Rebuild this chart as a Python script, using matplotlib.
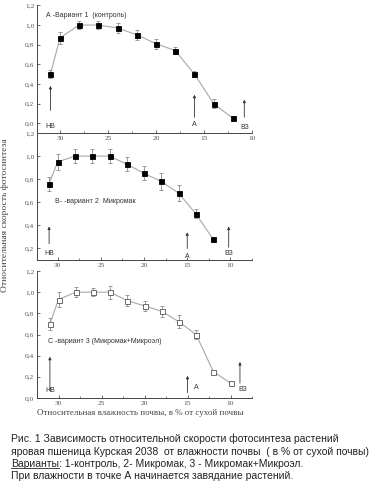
import matplotlib.pyplot as plt
from matplotlib.lines import Line2D
from matplotlib.ticker import MultipleLocator, FuncFormatter

# влажность почвы, % от сухой почвы
moist_a = [31, 30, 28, 26, 24, 22, 20, 18, 16, 14, 12]
rate_a = [0.50, 0.87, 1.00, 1.00, 0.97, 0.90, 0.81, 0.74, 0.50, 0.20, 0.05]
err_a = [0.04, 0.06, 0.04, 0.04, 0.05, 0.05, 0.05, 0.04, 0.03, 0.05, 0.0]

moist_b = [31, 30, 28, 26, 24, 22, 20, 18, 16, 14, 12]
rate_b = [0.76, 0.95, 1.00, 1.00, 1.00, 0.93, 0.85, 0.78, 0.68, 0.50, 0.28]
err_b = [0.06, 0.07, 0.06, 0.06, 0.06, 0.06, 0.06, 0.07, 0.07, 0.04, 0.0]

moist_c = [31, 30, 28, 26, 24, 22, 20, 18, 16, 14, 12, 10]
rate_c = [0.70, 0.93, 1.00, 1.00, 1.00, 0.92, 0.87, 0.82, 0.72, 0.60, 0.25, 0.14]
err_c = [0.06, 0.07, 0.05, 0.04, 0.06, 0.05, 0.05, 0.05, 0.06, 0.04, 0.0, 0.0]

titles = ['А -Вариант 1  (контроль)', 'В- -вариант 2  Микромак',
          'С -вариант 3 (Микромак+Микроэл)']

# стрелки: (x, y от, y до, подпись, x подписи, y подписи)
arrows_a = [(31, 0.13, 0.38, 'НВ', 31, -0.03), (16, 0.06, 0.29, 'А', 16, -0.01),
            (10.8, 0.06, 0.24, 'ВЗ', 10.8, -0.04)]
arrows_b = [(31, 0.24, 0.39, 'НВ', 31, 0.16), (15, 0.20, 0.34, 'А', 15, 0.13),
            (10.2, 0.21, 0.39, 'ВЗ', 10.2, 0.16)]
arrows_c = [(31, 0.07, 0.39, 'НВ', 31, 0.07), (15, 0.05, 0.21, 'А', 14, 0.10),
            (8.9, 0.14, 0.34, 'ВЗ', 8.6, 0.08)]

W, H = 375, 494
fig = plt.figure(figsize=(W / 100, H / 100), dpi=100)

serif = 'Liberation Serif'
sans = 'Liberation Sans'
grey = '#a8a8a8'


def px_axes(left, top, right, bottom):
    return fig.add_axes([left / W, 1 - bottom / H, (right - left) / W, (bottom - top) / H])


ax_a = px_axes(37, 5.4, 252, 133)
ax_b = px_axes(37, 133, 252, 260)
ax_c = px_axes(37, 271, 252, 398)

panels = [
    (ax_a, moist_a, rate_a, err_a, (32.4, 10), (-0.1, 1.2), arrows_a, 'black', (31.5, 1.10)),
    (ax_b, moist_b, rate_b, err_b, (32.4, 7.5), (0.1, 1.2), arrows_b, 'black', (30.3, 0.61)),
    (ax_c, moist_c, rate_c, err_c, (32.5, 7.5), (0.0, 1.2), arrows_c, 'white', (31.2, 0.53)),
]

for i, (ax, x, y, e, xl, yl, arrows, face, tpos) in enumerate(panels):
    ax.errorbar(x, y, yerr=e, color=grey, lw=0.8, ecolor='#8c8c8c', elinewidth=0.6,
                capsize=1.5, capthick=0.6, marker='s', markersize=3.6,
                markerfacecolor=face, markeredgecolor='black' if face == 'black' else '#555555',
                markeredgewidth=0.6, zorder=3)
    ax.set_xlim(*xl)
    ax.set_ylim(*yl)
    ax.xaxis.set_major_locator(MultipleLocator(5))
    ax.xaxis.set_minor_locator(MultipleLocator(2.5))
    ax.yaxis.set_major_locator(MultipleLocator(0.2))
    ax.yaxis.set_major_formatter(FuncFormatter(lambda v, p: f'{v:.1f}'.replace('.', ',')))
    ax.xaxis.set_major_formatter(FuncFormatter(lambda v, p: f'{v:.0f}'))
    ax.tick_params(direction='in', length=2.5, width=0.6, labelsize=5.3, colors='#555555',
                   pad=2)
    ax.tick_params(which='minor', direction='in', length=1.5, width=0.5, colors='#555555')
    for lab in ax.get_xticklabels() + ax.get_yticklabels():
        lab.set_family(serif)
    for s in ['top', 'right']:
        ax.spines[s].set_visible(False)
    for s in ['left', 'bottom']:
        ax.spines[s].set_linewidth(0.7)
        ax.spines[s].set_color('#444444')
    ax.patch.set_alpha(0)
    for (ax_x, y0, y1, lab, lx, ly) in arrows:
        ax.annotate('', xy=(ax_x, y1), xytext=(ax_x, y0),
                    arrowprops=dict(arrowstyle='-|>', lw=0.6, color='#333333',
                                    mutation_scale=4, shrinkA=0, shrinkB=0))
        ax.text(lx, ly, lab, fontsize=5, family=sans, color='#333333',
                ha='center', va='center')
    ax.text(tpos[0], tpos[1], titles[i], fontsize=5, family=sans, color='#333333',
            ha='left', va='center')

fig.text(5 / W, 1 - 215 / H, 'Относительная скорость фотосинтеза', rotation=90,
         fontsize=6.8, family=serif, color='#444444', ha='center', va='center')
fig.text(140 / W, 1 - 413 / H, 'Относительная влажность почвы, в % от сухой почвы',
         fontsize=6.4, family=serif, color='#444444', ha='center', va='center')

cap_size = 7.5
cap_x = 11 / W
fig.text(cap_x, 1 - 439 / H, 'Рис. 1 Зависимость относительной скорости фотосинтеза растений',
         fontsize=cap_size, family=sans, color='#222222', va='center')
fig.text(cap_x, 1 - 452 / H, 'яровая пшеница Курская 2038  от влажности почвы  ( в % от сухой почвы)',
         fontsize=cap_size, family=sans, color='#222222', va='center')
t_var = fig.text(cap_x, 1 - 464 / H, 'Варианты', fontsize=cap_size, family=sans,
                 color='#222222', va='center')
fig.text(cap_x, 1 - 476 / H, 'При влажности в точке А начинается завядание растений.',
         fontsize=cap_size, family=sans, color='#222222', va='center')

fig.canvas.draw()
bb = t_var.get_window_extent().transformed(fig.transFigure.inverted())
fig.text(bb.x1, 1 - 464 / H, ': 1-контроль, 2- Микромак, 3 - Микромак+Микроэл.',
         fontsize=cap_size, family=sans, color='#222222', va='center')
uy = bb.y0 + 1.5 / H
fig.add_artist(Line2D([bb.x0, bb.x1], [uy, uy],
                      transform=fig.transFigure, lw=0.6, color='#222222'))

fig.savefig('out.png', dpi=100)
